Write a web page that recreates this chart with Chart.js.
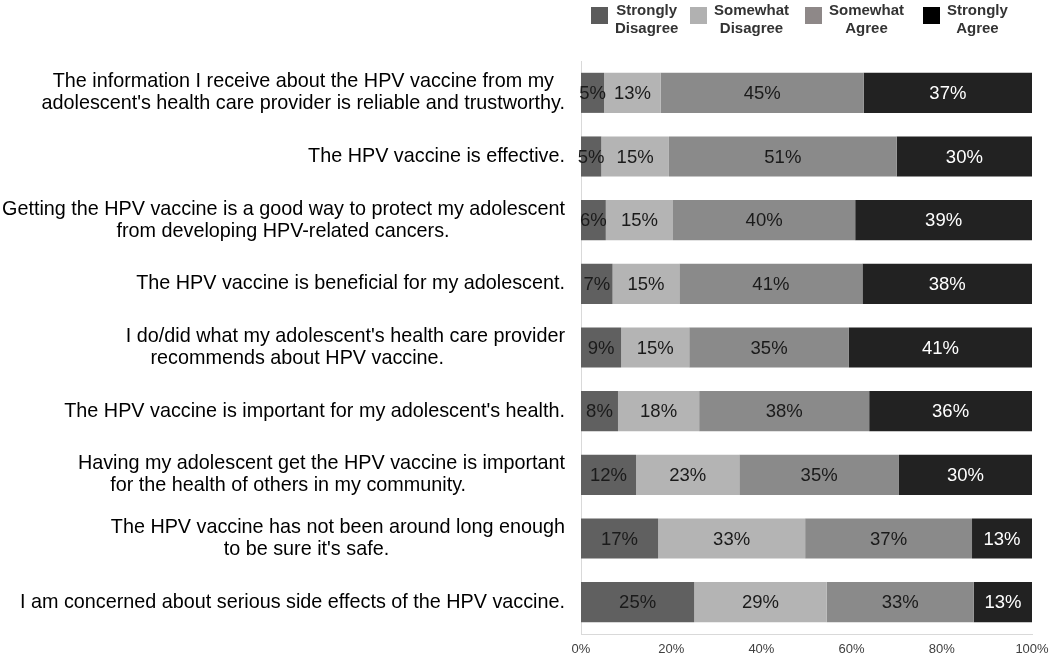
<!DOCTYPE html>
<html>
<head>
<meta charset="utf-8">
<title>HPV vaccine attitudes</title>
<script src="https://cdn.jsdelivr.net/npm/chart.js@4.4.0/dist/chart.umd.min.js"></script>
<style>
    html, body { margin: 0; padding: 0; background: #fff; }
    #wrap { position: relative; width: 1050px; height: 656px; }
    #legend { position: absolute; top: 0; left: 0; width: 1050px; height: 45px; font-family: "Liberation Sans", Arial, sans-serif; }
    .item { position: absolute; top: 1px; display: flex; align-items: flex-start; }
    .box { width: 17px; height: 17px; margin-top: 6px; margin-right: 7px; }
    .txt { font-weight: bold; font-size: 15px; line-height: 18px; text-align: center; color: #333; }
</style>
</head>
<body>
<div id="wrap">
    <canvas id="chart" width="1050" height="656"></canvas>
    <div id="legend"></div>
</div>
<script>
// ---- data ----
const categories = [
    ["The information I receive about the HPV vaccine from my", "adolescent's health care provider is reliable and trustworthy."],
    ["The HPV vaccine is effective."],
    ["Getting the HPV vaccine is a good way to protect my adolescent", "from developing HPV-related cancers."],
    ["The HPV vaccine is beneficial for my adolescent."],
    ["I do/did what my adolescent's health care provider", "recommends about HPV vaccine."],
    ["The HPV vaccine is important for my adolescent's health."],
    ["Having my adolescent get the HPV vaccine is important", "for the health of others in my community."],
    ["The HPV vaccine has not been around long enough", "to be sure it's safe."],
    ["I am concerned about serious side effects of the HPV vaccine."]
];

const seriesNames = [["Strongly", "Disagree"], ["Somewhat", "Disagree"], ["Somewhat", "Agree"], ["Strongly", "Agree"]];

const stronglyDisagree = [5.1, 4.5, 5.5, 7.0, 8.9, 8.2, 12.2, 17.1, 25.1];
const somewhatDisagree = [12.6, 15.0, 14.9, 14.8, 15.1, 18.0, 22.9, 32.6, 29.4];
const somewhatAgree    = [45.0, 50.5, 40.4, 40.6, 35.4, 37.7, 35.4, 37.0, 32.6];
const stronglyAgree    = [37.3, 30.0, 39.2, 37.6, 40.6, 36.1, 29.5, 13.3, 12.9];

const xTicks = [0, 20, 40, 60, 80, 100];

// ---- styling ----
const barColors = ['#606060', '#b4b4b4', '#8a8a8a', '#222222'];
const legendColors = ['#5b5b5b', '#b1b1b1', '#8e8888', '#000000'];
const valueColors = ['#1a1a1a', '#1a1a1a', '#1a1a1a', '#ffffff'];
const legendLeft = [591, 690, 805, 923];
const FONT = '"Liberation Sans", Arial, sans-serif';
const LABEL_SIZE = 19.8;
// how far each line ends short of the right edge (px), [line1, line2]
const lineShift = [[11, 0], [0], [0, 115], [0], [0, 122], [0], [0, 99], [0, 177], [0]];

// pad lines with trailing spaces so the right-aligned tick text sits like the original
const measure = document.createElement('canvas').getContext('2d');
measure.font = LABEL_SIZE + 'px ' + FONT;
const spaceW = measure.measureText(' ').width;
const tickLabels = categories.map((lines, i) =>
    lines.map((line, k) => line + ' '.repeat(Math.round((lineShift[i][k] || 0) / spaceW)))
);

// html legend
const legendEl = document.getElementById('legend');
seriesNames.forEach((name, i) => {
    const item = document.createElement('div');
    item.className = 'item';
    item.style.left = legendLeft[i] + 'px';
    item.innerHTML = '<div class="box" style="background:' + legendColors[i] + '"></div>' +
        '<div class="txt">' + name.join('<br>') + '</div>';
    legendEl.appendChild(item);
});

const barValueLabels = {
    id: 'barValueLabels',
    afterDatasetsDraw(chart) {
        const ctx = chart.ctx;
        ctx.save();
        ctx.font = '18.5px ' + FONT;
        ctx.textAlign = 'center';
        ctx.textBaseline = 'middle';
        chart.data.datasets.forEach((ds, i) => {
            ctx.fillStyle = valueColors[i];
            chart.getDatasetMeta(i).data.forEach((bar, j) => {
                ctx.fillText(Math.round(ds.data[j]) + '%', (bar.x + bar.base) / 2, bar.y + 1);
            });
        });
        ctx.restore();
    }
};

const seriesData = [stronglyDisagree, somewhatDisagree, somewhatAgree, stronglyAgree];

new Chart(document.getElementById('chart'), {
    type: 'bar',
    data: {
        labels: tickLabels,
        datasets: seriesData.map((d, i) => ({
            label: seriesNames[i].join(' '),
            data: d,
            backgroundColor: barColors[i],
            borderWidth: 0,
            categoryPercentage: 1,
            barPercentage: 0.63
        }))
    },
    options: {
        indexAxis: 'y',
        responsive: false,
        animation: false,
        layout: { padding: { top: 61, right: 18, left: 0, bottom: 0 } },
        plugins: {
            legend: { display: false },
            tooltip: { enabled: false }
        },
        scales: {
            x: {
                stacked: true,
                min: 0,
                max: 100,
                afterBuildTicks: s => { s.ticks = xTicks.map(v => ({ value: v })); },
                ticks: {
                    callback: v => v + '%',
                    color: '#404040',
                    font: { family: FONT, size: 13, lineHeight: 1 },
                    padding: 9,
                    maxRotation: 0
                },
                grid: { display: false, drawTicks: false },
                border: { display: true, color: '#d9d9d9' },
                afterFit: s => {
                    s.height = 22;
                    s.paddingLeft = 0;
                    s.paddingRight = 0;
                }
            },
            y: {
                stacked: true,
                ticks: {
                    color: '#000',
                    font: { family: FONT, size: LABEL_SIZE, lineHeight: 1.12 },
                    padding: 16,
                    autoSkip: false
                },
                grid: { display: false, drawTicks: false },
                border: { display: true, color: '#d9d9d9' },
                afterFit: s => {
                    s.width = 581;
                    s.paddingTop = 0;
                    s.paddingBottom = 0;
                }
            }
        }
    },
    plugins: [barValueLabels]
});
</script>
</body>
</html>
